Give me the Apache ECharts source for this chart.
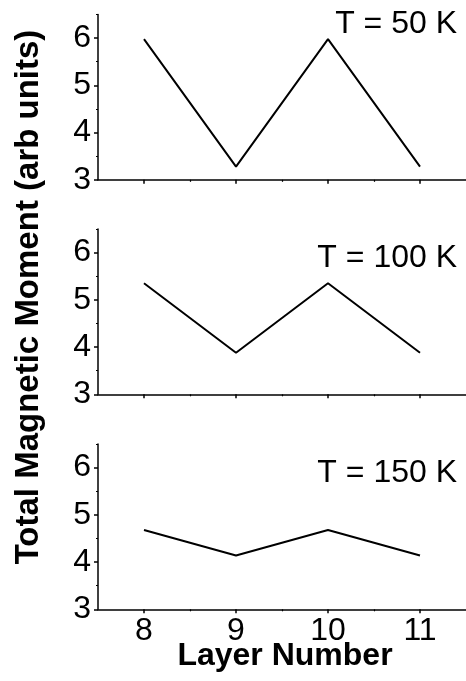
<!DOCTYPE html>
<html>
<head>
<meta charset="utf-8">
<script src="https://cdn.jsdelivr.net/npm/echarts@6/dist/echarts.min.js"></script>
<style>
html,body{margin:0;padding:0;background:#fff;}
#chart{width:466px;height:681px;}
</style>
</head>
<body>
<div id="chart"></div>
<script>
// ---- data ----
const layers = [8, 9, 10, 11];
const moment50K = [5.98, 3.28, 5.98, 3.28];
const moment100K = [5.35, 3.88, 5.35, 3.88];
const moment150K = [4.68, 4.14, 4.68, 4.14];
const panelLabels = ['T = 50 K', 'T = 100 K', 'T = 150 K'];
const yMajorTicks = [3, 4, 5, 6];
const yMinorTicks = [3.5, 4.5, 5.5, 6.5];
const xMajorTicks = [8, 9, 10, 11];
const xMinorTicks = [8.5, 9.5, 10.5];
const yTitle = 'Total Magnetic Moment (arb units)';
const xTitle = 'Layer Number';

const FONT = '"Liberation Sans", Arial, Helvetica, sans-serif';
const panels = [moment50K, moment100K, moment150K];
const gridTops = [14.5, 229, 444];
const gridH = 165.3;

const grids = [], xAxes = [], yAxes = [], series = [], graphics = [];
panels.forEach((vals, i) => {
  grids.push({left: 98, width: 371, top: gridTops[i], height: gridH, containLabel: false});
  const isLast = i === panels.length - 1;
  // major x axis
  xAxes.push({
    type: 'value', gridIndex: i, min: 7.5, max: 11.5, position: 'bottom',
    axisLine: {show: true, onZero: false, lineStyle: {color: '#000', width: 1.5}},
    axisTick: {show: true, inside: false, length: 4, customValues: xMajorTicks, lineStyle: {color: '#000', width: 1.5}},
    axisLabel: {show: isLast, customValues: xMajorTicks, margin: 6, color: '#000', fontSize: 32, fontFamily: FONT},
    splitLine: {show: false}
  });
  // minor x ticks
  xAxes.push({
    type: 'value', gridIndex: i, min: 7.5, max: 11.5, position: 'bottom', offset: 0,
    axisLine: {show: false, onZero: false},
    axisTick: {show: true, inside: false, length: 2, customValues: xMinorTicks, lineStyle: {color: '#000', width: 1.2}},
    axisLabel: {show: false},
    splitLine: {show: false}
  });
  yAxes.push({
    type: 'value', gridIndex: i, min: 3, max: 6.5, position: 'left',
    axisLine: {show: true, onZero: false, lineStyle: {color: '#000', width: 1.5}},
    axisTick: {show: true, inside: false, length: 4, customValues: yMajorTicks, lineStyle: {color: '#000', width: 1.5}},
    axisLabel: {show: true, customValues: yMajorTicks, margin: 7, color: '#000', fontSize: 32, fontFamily: FONT},
    splitLine: {show: false}
  });
  yAxes.push({
    type: 'value', gridIndex: i, min: 3, max: 6.5, position: 'left', offset: 0,
    axisLine: {show: false, onZero: false},
    axisTick: {show: true, inside: false, length: 2, customValues: yMinorTicks, lineStyle: {color: '#000', width: 1.2}},
    axisLabel: {show: false},
    splitLine: {show: false}
  });
  series.push({
    type: 'line', xAxisIndex: 2 * i, yAxisIndex: 2 * i,
    data: layers.map((x, k) => [x, vals[k]]),
    showSymbol: false, symbol: 'none',
    lineStyle: {color: '#000', width: 2},
    silent: true, animation: false
  });
});

const labelY = [24, 258, 473];
const labelRight = 457;
panelLabels.forEach((t, i) => {
  graphics.push({
    type: 'text', x: labelRight, y: labelY[i],
    style: {text: t, fill: '#000', font: '32px ' + FONT, textAlign: 'right', textVerticalAlign: 'middle'}
  });
});
graphics.push({
  type: 'text', x: 29, y: 297, rotation: Math.PI / 2,
  style: {text: yTitle, fill: '#000', font: 'bold 33px ' + FONT, textAlign: 'center', textVerticalAlign: 'middle'}
});
graphics.push({
  type: 'text', x: 285, y: 656,
  style: {text: xTitle, fill: '#000', font: 'bold 32px ' + FONT, textAlign: 'center', textVerticalAlign: 'middle'}
});

const chart = echarts.init(document.getElementById('chart'), null, {renderer: 'canvas'});
chart.setOption({
  animation: false,
  backgroundColor: '#fff',
  grid: grids,
  xAxis: xAxes,
  yAxis: yAxes,
  series: series,
  graphic: graphics
});
</script>
</body>
</html>
